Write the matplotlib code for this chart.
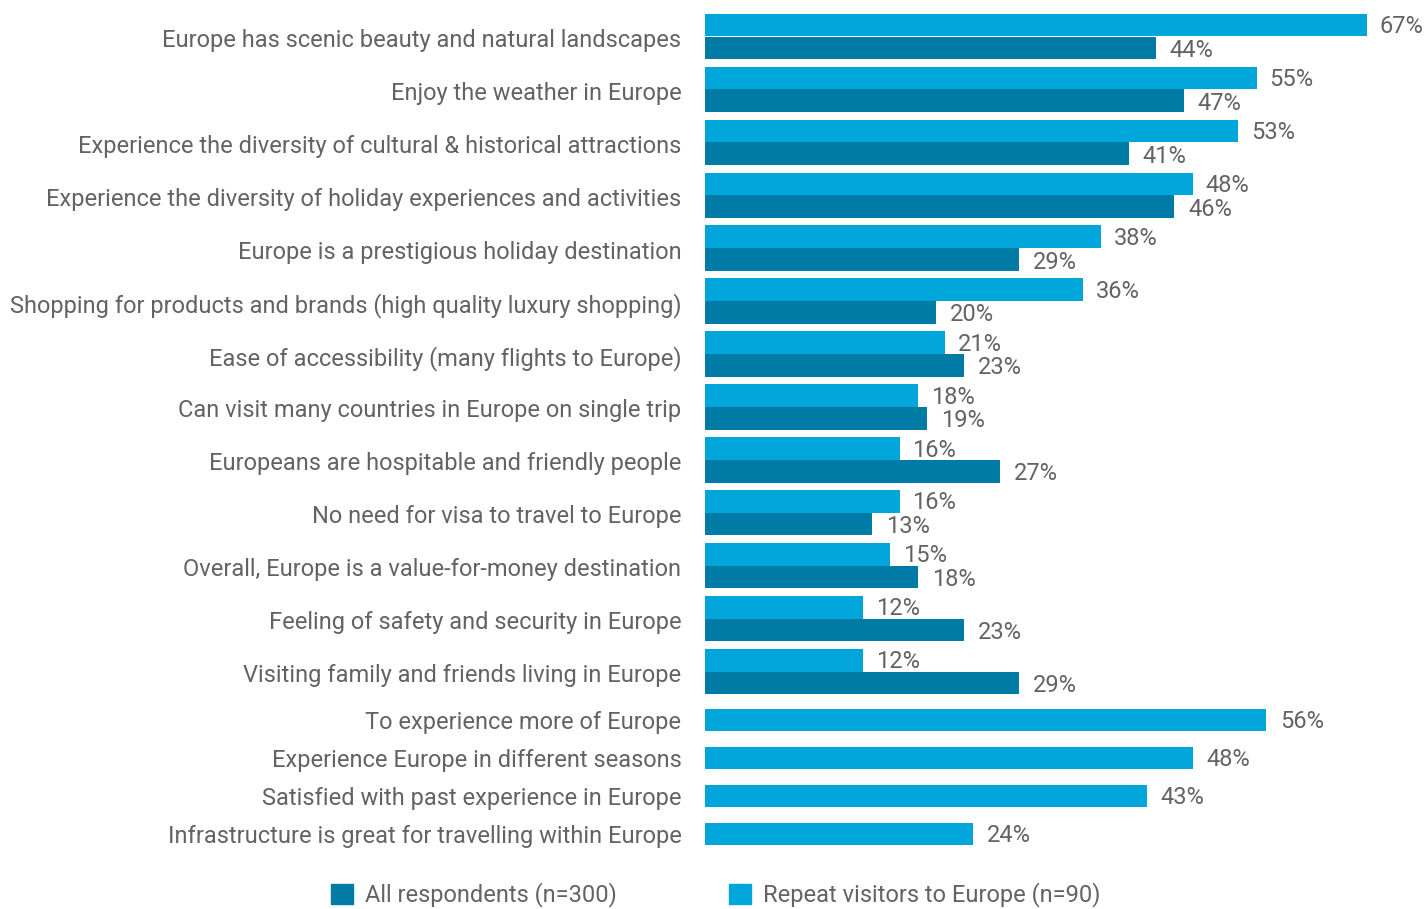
import matplotlib
matplotlib.use("Agg")
import matplotlib.pyplot as plt
from matplotlib.patches import Patch

plt.rcParams['font.family'] = ['Roboto', 'DejaVu Sans']

# categories with both series
pair_labels = [
    "Europe has scenic beauty and natural landscapes",
    "Enjoy the weather in Europe",
    "Experience the diversity of cultural & historical attractions",
    "Experience the diversity of holiday experiences and activities",
    "Europe is a prestigious holiday destination",
    "Shopping for products and brands (high quality luxury shopping)",
    "Ease of accessibility (many flights to Europe)",
    "Can visit many countries in Europe on single trip",
    "Europeans are hospitable and friendly people",
    "No need for visa to travel to Europe",
    "Overall, Europe is a value-for-money destination",
    "Feeling of safety and security in Europe",
    "Visiting family and friends living in Europe",
]
repeat_vals = [67, 55, 53, 48, 38, 36, 21, 18, 16, 16, 15, 12, 12]
all_vals = [44, 47, 41, 46, 29, 20, 23, 19, 27, 13, 18, 23, 29]

# categories asked only of repeat visitors
single_labels = [
    "To experience more of Europe",
    "Experience Europe in different seasons",
    "Satisfied with past experience in Europe",
    "Infrastructure is great for travelling within Europe",
]
single_vals = [56, 48, 43, 24]

LIGHT = "#00a6da"
DARK = "#007ba6"
TXT = "#636363"
FS = 17
PAD = 5.24          # bars start a little left of zero in the original
BAR_H = 22.7

fig = plt.figure(figsize=(14.25, 9.09), dpi=100)
ax = fig.add_axes([705 / 1425, 0, 720 / 1425, 1])
ax.set_xlim(-PAD, -PAD + 720 / 9.16)
ax.set_ylim(909, 0)

group_y = [36.5 + 52.92 * i for i in range(len(pair_labels))]
single_y = [720 + 38 * j for j in range(len(single_labels))]

for yc, rv, av in zip(group_y, repeat_vals, all_vals):
    ax.barh(yc - BAR_H / 2, rv + PAD, left=-PAD, height=BAR_H, color=LIGHT)
    ax.barh(yc + BAR_H / 2, av + PAD, left=-PAD, height=BAR_H, color=DARK)
    ax.text(rv + 1.4, yc - BAR_H / 2 + 1.5, f"{rv}%", va="center", ha="left",
            fontsize=FS, color=TXT, clip_on=False)
    ax.text(av + 1.5, yc + BAR_H / 2 + 2.5, f"{av}%", va="center", ha="left",
            fontsize=FS, color=TXT, clip_on=False)

for yc, sv in zip(single_y, single_vals):
    ax.barh(yc, sv + PAD, left=-PAD, height=BAR_H, color=LIGHT)
    ax.text(sv + 1.5, yc + 1.5, f"{sv}%", va="center", ha="left",
            fontsize=FS, color=TXT, clip_on=False)

ax.set_yticks([y + 1.5 for y in group_y] + single_y)
ax.set_yticklabels(pair_labels + single_labels, fontsize=FS, color=TXT)
ax.tick_params(axis="y", length=0, pad=17)
ax.set_xticks([])
for s in ax.spines.values():
    s.set_visible(False)

handles = [Patch(color=DARK, label="All respondents (n=300)"),
           Patch(color=LIGHT, label="Repeat visitors to Europe (n=90)")]
fig.legend(handles=handles, loc="center", bbox_to_anchor=(716 / 1425, 1 - 895 / 909),
           ncol=2, frameon=False, fontsize=FS, handlelength=0.93, handleheight=0.93,
           handletextpad=0.5, columnspacing=4.75, labelcolor=TXT)

fig.savefig("out.png", dpi=100)
